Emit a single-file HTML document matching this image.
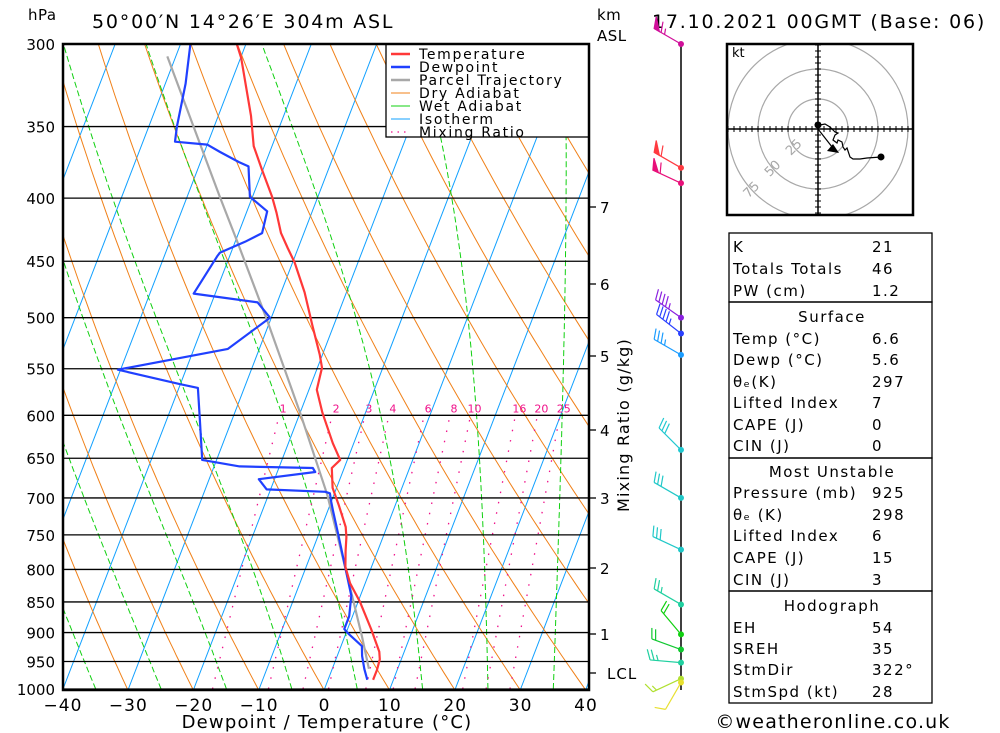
<!DOCTYPE html>
<html><head><meta charset="utf-8">
<style>
html,body{margin:0;padding:0;background:#fff;}
svg{display:block;font-family:"DejaVu Sans","Liberation Sans",sans-serif;}
</style></head>
<body>
<svg id="c" width="1000" height="733" viewBox="0 0 1000 733" xmlns="http://www.w3.org/2000/svg">
<defs><clipPath id="plotclip"><rect x="63" y="44" width="526" height="646"/></clipPath>
<clipPath id="hodoclip"><rect x="727" y="44" width="186" height="171"/></clipPath></defs>
<g id="bg" clip-path="url(#plotclip)"></g>
<g id="series" clip-path="url(#plotclip)"></g>
<g id="axes"></g>
<g id="wind"></g>
<g id="hodo"></g>
<g id="tbl"></g>
</svg>
<script>
// ---- data ----
const tempP = [300,308,343,363,379,399,411,427,439,451,477,507,536,549,572,597,632,652,662,687,710,739,753,773,796,821,850,894,933,946,965,983];
const tempT = [-51.4,-49.9,-45.0,-42.8,-40.2,-37.0,-35.4,-33.5,-31.6,-29.7,-26.4,-23.3,-20.4,-19.3,-18.8,-16.6,-13.2,-11.1,-11.9,-10.6,-8.6,-6.3,-5.6,-4.9,-4.0,-2.3,0.3,3.6,6.2,6.7,6.9,6.9];
const dewP = [300,323,350,360,362,367,374,377,399,410,427,434,443,446,478,486,500,530,551,566,570,602,652,660,662,667,676,689,692,694,705,717,751,800,840,873,894,902,923,940,963,983];
const dewT = [-58.5,-56.9,-55.7,-55.1,-50.0,-47.6,-44.1,-42.4,-40.4,-36.9,-36.4,-38.5,-41.7,-41.9,-43.3,-33.0,-30.2,-34.8,-50.4,-40.1,-37.1,-35.1,-32.2,-26.1,-14.8,-14.2,-22.4,-20.6,-11.5,-10.7,-10.0,-9.2,-6.9,-3.8,-1.4,-0.5,-0.5,0.4,3.2,3.8,4.9,6.0];
const parcelP = [307,399,433,504,597,696,800,906,963];
const parcelT = [-61.3,-45.0,-39.8,-30.3,-20.0,-11.0,-3.8,2.6,5.6];
const pressureTicks = [300,350,400,450,500,550,600,650,700,750,800,850,900,950,1000];
const tempTicks = [-40,-30,-20,-10,0,10,20,30,40];
const mixRatios = [1,2,3,4,6,8,10,16,20,25];
const kmTicks = [7,6,5,4,3,2,1];
const kmY = [207,284,356,430,498,568,634];
const windP = [300,378,389,500,515,536,640,700,771,854,903,929,952,981,988];
const windDir = [300,300,295,305,308,300,315,300,295,300,320,290,275,245,210];
const windSpd = [65,60,60,45,45,35,30,30,30,25,20,20,25,15,10];
const windCol = ['#d0109a','#ff3a40','#e8107a','#8a20e0','#2a40ff','#1a9cff','#20c8d0','#20c8c8','#20c8c8','#20d0a0','#10d010','#10c830','#20d0a0','#b0e030','#e8e030'];
const hodoU = [0,1.7,5.8,10,14.2,16.7,14.2,12.5,15.8,16.7,20,20.8,22.5,24.2,26.7,29.2,35,40.8,52.5];
const hodoV = [3.3,3.3,4.2,1.7,-2.5,-3.3,-5,-9.2,-11.7,-9.2,-10.8,-15,-17.5,-15.8,-23.3,-25,-25,-24.2,-23.3];
const stormU = 15, stormV = -19.2;

// ---- axes functions ----
const NS='http://www.w3.org/2000/svg';
const K = Math.log(1000/300)/645;
function yP(p){return 44 + Math.log(p/300)/K;}
function xT(T,p){return 63 + (T+40)*6.5375 + 0.385*(689 - yP(p));}
function mk(parent,tag,attrs,text){const e=document.createElementNS(NS,tag);for(const k in attrs)e.setAttribute(k,attrs[k]);if(text!==undefined)e.textContent=text;parent.appendChild(e);return e;}
const bg=document.getElementById('bg'), se=document.getElementById('series'), ax=document.getElementById('axes');

// isotherms
for(let T=-140;T<=40;T+=10){
  const l=mk(bg,'line',{x1:xT(T,1000),y1:yP(1000),x2:xT(T,300),y2:yP(300),stroke:'#10a0ff','stroke-width':1});
  
  
}
// dry adiabats
for(let th=213;th<=483;th+=10){
  let d='';
  for(let p=1000;p>=300;p-=10){const T=th*Math.pow(p/1000,0.286)-273.15;d+=(p==1000?'M':'L')+xT(T,p).toFixed(1)+','+yP(p).toFixed(1);}
  const l=mk(bg,'path',{d:d,fill:'none',stroke:'#f08018','stroke-width':1});
  
  
}
// moist adiabats
function es(T){return 6.112*Math.exp(17.67*T/(T+243.5));}
for(let T0=-45;T0<=35;T0+=10){
  let T=T0+273.15,d='';
  for(let p=1000;p>=300;p-=5){
    d+=(p==1000?'M':'L')+xT(T-273.15,p).toFixed(1)+','+yP(p).toFixed(1);
    const e=es(T-273.15);
    const rs=0.622*e/(p-e);
    const dTdp=(287*T+2.5e6*rs)/(p*(1004+2.5e6*2.5e6*rs*0.622/(287*T*T)));
    T-=dTdp*5;
  }
  const l=mk(bg,'path',{d:d,fill:'none',stroke:'#10d010','stroke-width':1,'stroke-dasharray':'6,3'});
  
  
}
// mixing ratio
function tdW(w,p){const e=w*p/(622+w);const a=Math.log(e/6.112);return 243.5*a/(17.67-a);}
mixRatios.forEach(w=>{
  const l=mk(bg,'line',{x1:xT(tdW(w,1000),1000),y1:yP(1000),x2:xT(tdW(w,600),600),y2:yP(600),stroke:'#f0108a','stroke-width':1.3,'stroke-dasharray':'1.5,9'});
  
  
  const t=mk(ax,'text',{x:xT(tdW(w,600),600)+4,y:yP(600)-3,fill:'#f0108a','font-size':11,'text-anchor':'middle'},String(w));
  
  
});
// pressure lines
pressureTicks.forEach(p=>{
  const l=mk(bg,'line',{x1:63,x2:589,y1:yP(p),y2:yP(p),stroke:'#000','stroke-width':1.3});
  
  
  const t=mk(ax,'text',{x:55,y:yP(p)+6,'font-size':15,'text-anchor':'end'},String(p));
  
  
});
// series
function line(P,T,col,w,name){
  let d='';P.forEach((p,i)=>{d+=(i?'L':'M')+xT(T[i],p).toFixed(1)+','+yP(p).toFixed(1);});
  const l=mk(se,'path',{d:d,fill:'none',stroke:col,'stroke-width':w,'stroke-linejoin':'round'});
  
  
}
line(parcelP,parcelT,'#a8a8a8',2.2,'parcel-trajectory-line');
line(dewP,dewT,'#2040ff',2.2,'dewpoint-line');
line(tempP,tempT,'#ff3838',2.2,'temperature-line');
// legend
const lg=mk(ax,'g',{});


mk(lg,'rect',{x:386,y:44,width:203,height:93,fill:'#fff',stroke:'#000','stroke-width':1.3});
const legItems=[['Temperature','#ff3838',2.5,''],['Dewpoint','#2040ff',2.5,''],['Parcel Trajectory','#a8a8a8',2.5,''],['Dry Adiabat','#f08018',1,''],['Wet Adiabat','#10d010',1,''],['Isotherm','#10a0ff',1,''],['Mixing Ratio','#f0108a',1.3,'1.5,5']];
legItems.forEach((it,i)=>{
  const y=54+i*13;
  const g=mk(lg,'g',{});
  
  
  mk(g,'line',{x1:391,x2:410,y1:y,y2:y,stroke:it[1],'stroke-width':it[2],'stroke-dasharray':it[3]||'none'});
  mk(g,'text',{x:419,y:y+5,'font-size':14,'letter-spacing':1.7},it[0]);
});
// frame
const fr=mk(ax,'rect',{x:63,y:44,width:526,height:646,fill:'none',stroke:'#000','stroke-width':2.5});


tempTicks.forEach(T=>{
  const t=mk(ax,'text',{x:xT(T,1000),y:711,'font-size':17,'text-anchor':'middle','letter-spacing':1},(T<0?'\u2212':'')+Math.abs(T));
  
  
});
kmTicks.forEach((k,i)=>{
  mk(ax,'line',{x1:589,x2:596,y1:kmY[i],y2:kmY[i],stroke:'#000','stroke-width':1.3});
  const t=mk(ax,'text',{x:600,y:kmY[i]+6,'font-size':15},String(k));
  
  
});
mk(ax,'line',{x1:589,x2:596,y1:673,y2:673,stroke:'#000','stroke-width':1.3});
const lcl=mk(ax,'text',{x:607,y:679,'font-size':15,'letter-spacing':1},'LCL');

const texts=[
 [28,20,15,'hPa','start','pressure-unit',0.5],
 [92,28,19,'50\u00b000\u2032N 14\u00b026\u2032E 304m ASL','start','chart-title',1.8],
 [597,20,15,'km','start','km-unit',0.5],
 [597,41,15,'ASL','start','asl-unit',0.5],
 [652,28,19,'17.10.2021 00GMT (Base: 06)','start','date-title',1.8],
 [327,728,18,'Dewpoint / Temperature (\u00b0C)','middle','x-axis-title',1.2],
 [833,728,19,'\u00a9weatheronline.co.uk','middle','copyright',1.2]
];
texts.forEach(a=>{const t=mk(ax,'text',{x:a[0],y:a[1],'font-size':a[2],'text-anchor':a[4],'letter-spacing':a[6]},a[3]);
 });
const mr=mk(ax,'text',{x:0,y:0,'font-size':16,'text-anchor':'middle','letter-spacing':1.2,transform:'translate(629,425) rotate(-90)'},'Mixing Ratio (g/kg)');


// wind barbs
const wg=document.getElementById('wind');
mk(wg,'line',{x1:681,x2:681,y1:44,y2:690,stroke:'#000','stroke-width':1.5});
windP.forEach((p,i)=>{
  const y=yP(p),a=windDir[i]*Math.PI/180,L=31;
  const ux=Math.sin(a),uy=-Math.cos(a);
  const ex=681+ux*L,ey=y+uy*L;
  const g=mk(wg,'g',{stroke:windCol[i],fill:windCol[i],'stroke-width':1.2});
  
  
  mk(g,'line',{x1:681,y1:y,x2:ex,y2:ey});
  mk(g,'circle',{cx:681,cy:y,r:3,stroke:'none'});
  const r=70*Math.PI/180, fx=ux*Math.cos(r)-uy*Math.sin(r), fy=ux*Math.sin(r)+uy*Math.cos(r);
  let s=windSpd[i],pos=0;
  while(s>=50){const bx=ex-ux*pos,by=ey-uy*pos;
    mk(g,'polygon',{points:`${bx},${by} ${bx+fx*12},${by+fy*12} ${bx-ux*6},${by-uy*6}`});pos+=8;s-=50;}
  while(s>=10){const bx=ex-ux*pos,by=ey-uy*pos;mk(g,'line',{x1:bx,y1:by,x2:bx+fx*11,y2:by+fy*11});pos+=4;s-=10;}
  if(s>=5){const bx=ex-ux*pos,by=ey-uy*pos;mk(g,'line',{x1:bx,y1:by,x2:bx+fx*6,y2:by+fy*6});}
});

// hodograph
const hg=document.getElementById('hodo');
const hcx=818,hcy=129,hs=1.2;
const hc=mk(hg,'g',{'clip-path':'url(#hodoclip)'});
[25,50,75].forEach(r=>mk(hc,'circle',{cx:hcx,cy:hcy,r:r*hs,fill:'none',stroke:'#a8a8a8','stroke-width':1.2}));
[[25,'25'],[50,'50'],[75,'75']].forEach(a=>{const d=a[0]*hs*0.707;
  mk(hc,'text',{x:hcx-d,y:hcy+d,'font-size':13,fill:'#a8a8a8','text-anchor':'middle',transform:`rotate(-45 ${hcx-d} ${hcy+d})`},a[1]);});
mk(hg,'line',{x1:727,x2:913,y1:hcy,y2:hcy,stroke:'#000','stroke-width':1.5});
mk(hg,'line',{x1:hcx,x2:hcx,y1:44,y2:215,stroke:'#000','stroke-width':1.5});
for(let k=-75;k<=75;k+=5){const o=k*hs;
  if(hcx+o>727&&hcx+o<913) mk(hg,'line',{x1:hcx+o,x2:hcx+o,y1:hcy-3,y2:hcy+3,stroke:'#000'});
  if(hcy+o>44&&hcy+o<215) mk(hg,'line',{x1:hcx-3,x2:hcx+3,y1:hcy+o,y2:hcy+o,stroke:'#000'});}
let hd='';hodoU.forEach((u,i)=>{hd+=(i?'L':'M')+(hcx+u*hs).toFixed(1)+','+(hcy-hodoV[i]*hs).toFixed(1);});
const hl=mk(hg,'path',{d:hd,fill:'none',stroke:'#000','stroke-width':1.2});

mk(hg,'circle',{cx:hcx+hodoU[0]*hs,cy:hcy-hodoV[0]*hs,r:3.5});
mk(hg,'circle',{cx:hcx+hodoU[hodoU.length-1]*hs,cy:hcy-hodoV[hodoV.length-1]*hs,r:3.5});
const sx=hcx+stormU*hs,sy=hcy-stormV*hs;
mk(hg,'line',{x1:hcx,y1:hcy,x2:sx,y2:sy,stroke:'#000','stroke-width':1.2});
mk(hg,'polygon',{points:`${sx+3},${sy+1} ${sx-9},${sy-1} ${sx-3},${sy-8}`});
mk(hg,'rect',{x:727,y:44,width:186,height:171,fill:'none',stroke:'#000','stroke-width':2.5});
mk(hg,'text',{x:732,y:57,'font-size':13},'kt');

// table
const tg=document.getElementById('tbl');
[[233,302],[302,458],[458,591],[591,703]].forEach(b=>mk(tg,'rect',{x:729,y:b[0],width:203,height:b[1]-b[0],fill:'none',stroke:'#000','stroke-width':1.3}));
const rows=[['K','21',246],['Totals Totals','46',268],['PW (cm)','1.2',290],['#Surface','',316],['Temp (\u00b0C)','6.6',338],['Dewp (\u00b0C)','5.6',359],['\u03b8\u2091(K)','297',381],['Lifted Index','7',402],['CAPE (J)','0',424],['CIN (J)','0',445],['#Most Unstable','',471],['Pressure (mb)','925',492],['\u03b8\u2091 (K)','298',514],['Lifted Index','6',535],['CAPE (J)','15',557],['CIN (J)','3',579],['#Hodograph','',605],['EH','54',627],['SREH','35',648],['StmDir','322\u00b0',669],['StmSpd (kt)','28',691]];
rows.forEach(r=>{
  if(r[0][0]==='#'){const t=mk(tg,'text',{x:832,y:r[2]+6,'font-size':15,'text-anchor':'middle','letter-spacing':1.5},r[0].slice(1));
    return;}
  const a=mk(tg,'text',{x:733,y:r[2]+6,'font-size':15,'letter-spacing':1.5},r[0]);
  
  const b=mk(tg,'text',{x:872,y:r[2]+6,'font-size':15,'letter-spacing':1.5},r[1]);
  
});
</script>
</body></html>
